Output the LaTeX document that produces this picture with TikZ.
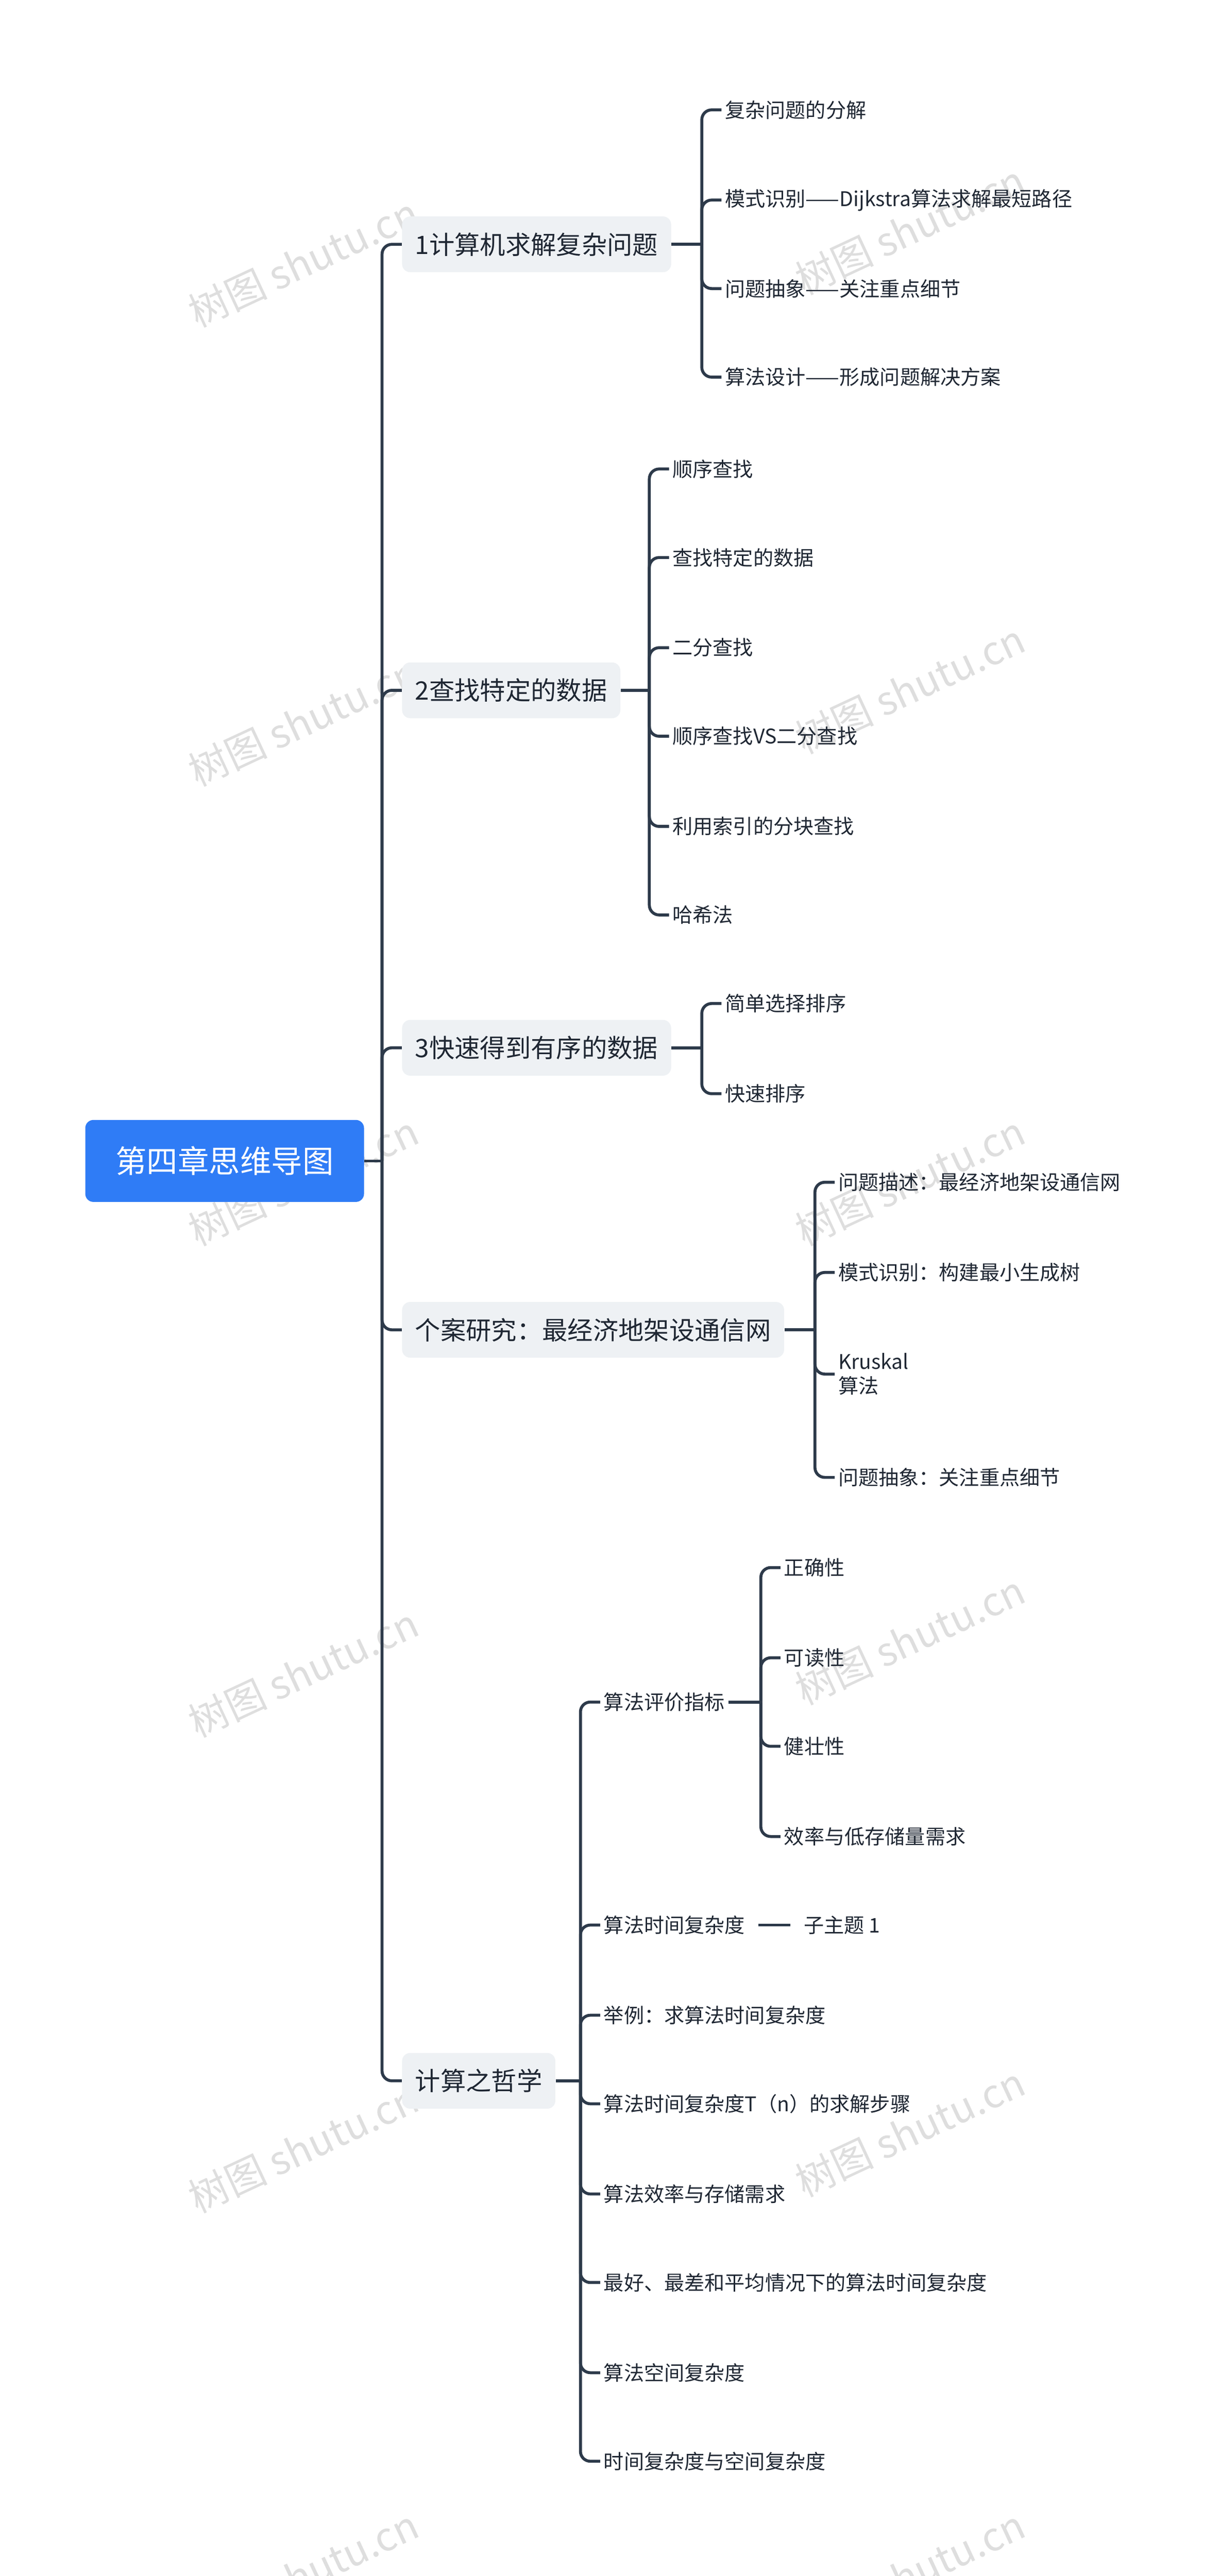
\documentclass[tikz,border=0pt]{standalone}
\usepackage{fontspec}
\setmainfont{Noto Sans CJK SC}
\newfontfamily\wmfont{Noto Sans CJK SC}
\begin{document}
\begin{tikzpicture}[x=1pt,y=-1pt,
  conn/.style={draw=lineC,line width=1.8pt,rounded corners=6pt},
  leaf/.style={anchor=west,inner sep=2pt,font=\fontsize{12.3}{15}\selectfont,text=txtC},
  branch/.style={anchor=west,fill=boxC,rounded corners=5pt,inner xsep=8pt,minimum height=34pt,font=\fontsize{15.5}{18}\selectfont,text=txtC},
  wm/.style={rotate=25,text=black!13,font=\wmfont\fontsize{24}{28}\selectfont}]
\definecolor{lineC}{HTML}{2D3A4A}
\definecolor{txtC}{HTML}{1F2733}
\definecolor{boxC}{HTML}{EEF1F4}
\definecolor{rootC}{HTML}{2F7CF6}
\useasboundingbox[fill=white] (0,0) rectangle (744,1571);
% watermarks
\foreach \p in {(185,160),(555,140),(185,440),(555,420),(185,720),(555,720),(185,1020),(555,1000),(185,1310),(555,1300),(185,1570),(555,1570)}
  \node[wm] at \p {树图 shutu.cn};
% root
\node[fill=rootC,rounded corners=5pt,minimum width=170pt,minimum height=50pt,text=white,font=\fontsize{19}{22}\selectfont] (root) at (137,708) {第四章思维导图};
\coordinate (trunk) at (233,708);
% branches
\node[branch] (b1) at (245,149) {1计算机求解复杂问题};
\node[branch] (b2) at (245,421) {2查找特定的数据};
\node[branch] (b3) at (245,639) {3快速得到有序的数据};
\node[branch] (b4) at (245,811) {个案研究：最经济地架设通信网};
\node[branch] (b5) at (245,1269) {计算之哲学};
\draw[conn] (root.east) -- (trunk);
\foreach \b in {b1,b2,b3,b4,b5} \draw[conn] (trunk) |- (\b.west);
% branch 1
\coordinate (v1) at (428,149);
\node[leaf] (c11) at (440,67) {复杂问题的分解};
\node[leaf] (c12) at (440,122) {模式识别——Dijkstra算法求解最短路径};
\node[leaf] (c13) at (440,176) {问题抽象——关注重点细节};
\node[leaf] (c14) at (440,230) {算法设计——形成问题解决方案};
\draw[conn] (b1.east) -- (v1);
\foreach \c in {c11,c12,c13,c14} \draw[conn] (v1) |- (\c.west);
% branch 2
\coordinate (v2) at (396,421);
\node[leaf] (c21) at (408,286) {顺序查找};
\node[leaf] (c22) at (408,340) {查找特定的数据};
\node[leaf] (c23) at (408,395) {二分查找};
\node[leaf] (c24) at (408,449) {顺序查找VS二分查找};
\node[leaf] (c25) at (408,504) {利用索引的分块查找};
\node[leaf] (c26) at (408,558) {哈希法};
\draw[conn] (b2.east) -- (v2);
\foreach \c in {c21,c22,c23,c24,c25,c26} \draw[conn] (v2) |- (\c.west);
% branch 3
\coordinate (v3) at (428,639);
\node[leaf] (c31) at (440,612) {简单选择排序};
\node[leaf] (c32) at (440,667) {快速排序};
\draw[conn] (b3.east) -- (v3);
\foreach \c in {c31,c32} \draw[conn] (v3) |- (\c.west);
% branch 4
\coordinate (v4) at (497,811);
\node[leaf] (c41) at (509,721) {问题描述：最经济地架设通信网};
\node[leaf] (c42) at (509,776) {模式识别：构建最小生成树};
\node[leaf,align=left] (c43) at (509,838) {Kruskal\\算法};
\node[leaf] (c44) at (509,901) {问题抽象：关注重点细节};
\draw[conn] (b4.east) -- (v4);
\foreach \c in {c41,c42,c43,c44} \draw[conn] (v4) |- (\c.west);
% branch 5
\coordinate (v5) at (354,1269);
\node[leaf] (c51) at (366,1038) {算法评价指标};
\node[leaf] (c52) at (366,1174) {算法时间复杂度};
\node[leaf] (c53) at (366,1229) {举例：求算法时间复杂度};
\node[leaf] (c54) at (366,1283) {算法时间复杂度T（n）的求解步骤};
\node[leaf] (c55) at (366,1338) {算法效率与存储需求};
\node[leaf] (c56) at (366,1392) {最好、最差和平均情况下的算法时间复杂度};
\node[leaf] (c57) at (366,1447) {算法空间复杂度};
\node[leaf] (c58) at (366,1501) {时间复杂度与空间复杂度};
\draw[conn] (b5.east) -- (v5);
\foreach \c in {c51,c52,c53,c54,c55,c56,c57,c58} \draw[conn] (v5) |- (\c.west);
% sub of c51
\coordinate (v6) at (464,1038);
\node[leaf] (d1) at (476,956) {正确性};
\node[leaf] (d2) at (476,1011) {可读性};
\node[leaf] (d3) at (476,1065) {健壮性};
\node[leaf] (d4) at (476,1120) {效率与低存储量需求};
\draw[conn] (c51.east) -- (v6);
\foreach \c in {d1,d2,d3,d4} \draw[conn] (v6) |- (\c.west);
% sub of c52
\node[leaf] (e1) at (488,1174) {子主题 1};
\draw[conn] ([xshift=6pt]c52.east) -- ([xshift=-6pt]e1.west);
\end{tikzpicture}
\end{document}
